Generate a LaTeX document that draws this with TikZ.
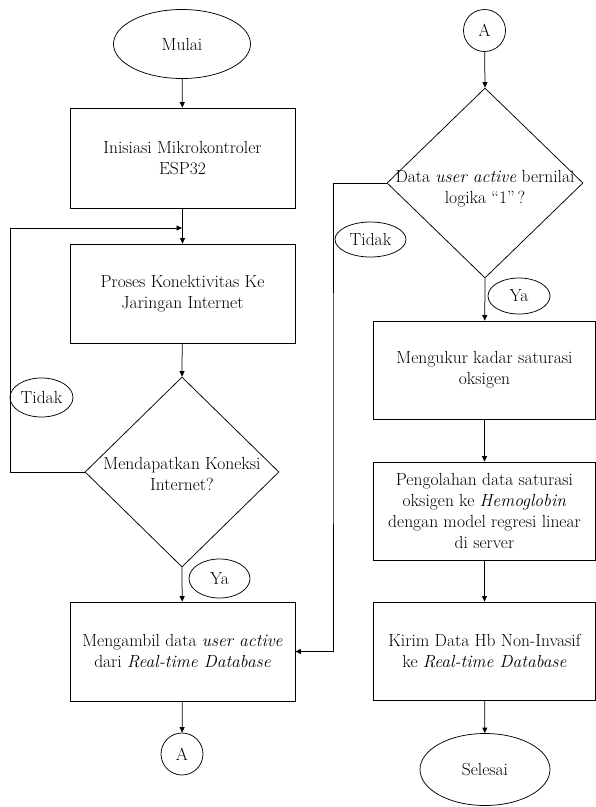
\documentclass[tikz,border=0pt]{standalone}
\usetikzlibrary{arrows.meta,shapes.geometric}

\tikzset{
  line/.style={draw=black, line width=0.75pt},
  arr/.style={line, -{Triangle[length=5.5pt,width=5pt]}},
  procbox/.style={line, rectangle, inner sep=0pt, align=center},
  decbox/.style={line, diamond, inner sep=0pt},
  term/.style={line, ellipse, inner sep=0pt},
  conn/.style={line, circle, inner sep=0pt, minimum size=42pt},
  txt/.style={align=center, inner sep=0pt},
}

\begin{document}
\begin{tikzpicture}[x=1pt, y=-1pt, font=\fontsize{17.5}{21}\selectfont]
  \useasboundingbox (0,0) rectangle (596,807);

  % ---- left column ----
  \node[term, minimum width=137pt, minimum height=69pt] (mulai) at (182,44) {Mulai};
  \node[procbox, minimum width=225pt, minimum height=100pt] (b1) at (182.5,158)
    {Inisiasi Mikrokontroler\\ESP32};
  \node[procbox, minimum width=225pt, minimum height=99pt] (b2) at (182.5,293.5)
    {Proses Konektivitas Ke\\Jaringan Internet};
  \node[decbox, minimum width=194pt, minimum height=190pt] (d1) at (182,472) {};
  \node[txt] (d1t) at (182,474) {Mendapatkan Koneksi\\Internet?};
  \node[procbox, minimum width=225pt, minimum height=99pt] (b3) at (182.5,651.5)
    {Mengambil data \textit{user active}\\dari \textit{Real-time Database}};
  \node[conn] (a1) at (182,754) {A};

  \node[term, minimum width=63pt, minimum height=39pt] (tidak1) at (41.5,397.5) {Tidak};
  \node[term, minimum width=61pt, minimum height=39pt] (ya1) at (219.5,578.5) {Ya};

  \coordinate (j1) at (182,228);
  \coordinate (lx) at (10,0);

  \draw[arr] (mulai) -- (b1);
  \draw[arr] (b1) -- (b2);
  \draw[arr] (b2) -- (d1.north);
  \draw[arr] (d1.south) -- (b3);
  \draw[arr] (b3) -- (a1);
  \draw[arr] (d1.west) -- (d1.west -| lx) |- (j1);

  % ---- right column ----
  \node[conn] (a2) at (484.5,30.5) {A};
  \node[decbox, minimum width=196pt, minimum height=190pt] (d2) at (485,183) {};
  \node[txt] (d2t) at (485,189) {Data \textit{user active} bernilai\\logika ``1''\,?};
  \node[procbox, minimum width=222pt, minimum height=98pt] (b4) at (484.5,370)
    {Mengukur kadar saturasi\\oksigen};
  \node[procbox, minimum width=222pt, minimum height=98pt] (b5) at (484.5,511)
    {Pengolahan data saturasi\\oksigen ke \textit{Hemoglobin}\\dengan model regresi linear\\di server};
  \node[procbox, minimum width=222pt, minimum height=98pt] (b6) at (484.5,651)
    {Kirim Data Hb Non-Invasif\\ke \textit{Real-time Database}};
  \node[term, minimum width=130pt, minimum height=72pt] (selesai) at (485,769.5) {Selesai};

  \node[term, minimum width=71pt, minimum height=35pt] (tidak2) at (370.5,239.5) {Tidak};
  \node[term, minimum width=62pt, minimum height=36pt] (ya2) at (519,296) {Ya};

  \coordinate (rx) at (333,400);

  \draw[arr] (a2) -- (d2.north);
  \draw[arr] (d2.south) -- (b4);
  \draw[arr] (b4) -- (b5);
  \draw[arr] (b5) -- (b6);
  \draw[arr] (b6) -- (selesai);
  \draw[arr] (d2.west) -| (rx) |- (b3.east);
\end{tikzpicture}
\end{document}
